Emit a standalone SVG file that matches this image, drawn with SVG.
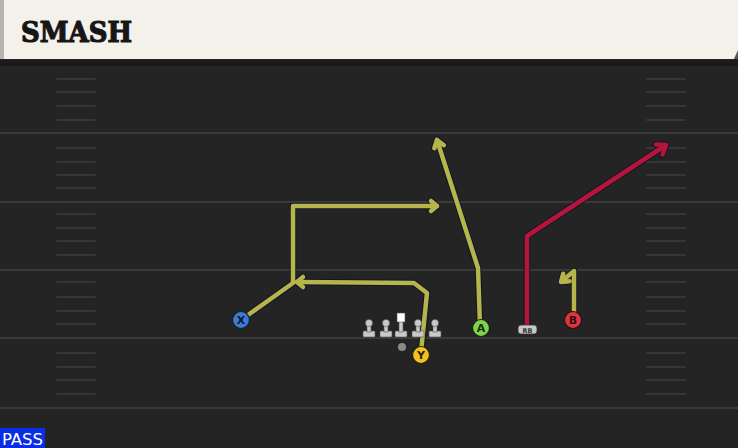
<svg xmlns="http://www.w3.org/2000/svg" width="738" height="448" viewBox="0 0 738 448">
<style>
.yard{stroke:#3a3a3a;stroke-width:2}
.hash{stroke:#363636;stroke-width:2;stroke-linecap:round}
.out{fill:none;stroke:#14142a;stroke-width:6.5;stroke-linejoin:round;stroke-linecap:round}
.rt{fill:none;stroke:#b5b54a;stroke-width:4.5;stroke-linejoin:round;stroke-linecap:round}
.red{fill:none;stroke:#b3163a;stroke-width:4.5;stroke-linejoin:round;stroke-linecap:round}
.lbl{font-family:"DejaVu Sans",sans-serif;font-size:11px;font-weight:bold;text-anchor:middle}
.ol{fill:#c9c9c9;stroke:#555;stroke-width:0.6}
</style>
<defs>
<g id="lm"><rect class="ol" x="-6" y="331" width="12" height="6" rx="1"/><rect class="ol" x="-2" y="324" width="4" height="8"/><circle class="ol" cx="0" cy="323" r="3.6"/></g>
</defs>
<rect width="738" height="448" fill="#242424"/>
<rect x="0" y="60" width="738" height="6" fill="#1a1a1a"/>
<g id="field">
<line class="yard" x1="0" y1="133" x2="738" y2="133"/>
<line class="yard" x1="0" y1="202" x2="738" y2="202"/>
<line class="yard" x1="0" y1="270" x2="738" y2="270"/>
<line class="yard" x1="0" y1="338" x2="738" y2="338"/>
<line class="yard" x1="0" y1="408" x2="738" y2="408"/>
<g id="hashL">
<line class="hash" x1="57" y1="79" x2="95" y2="79"/><line class="hash" x1="57" y1="92" x2="95" y2="92"/><line class="hash" x1="57" y1="106" x2="95" y2="106"/><line class="hash" x1="57" y1="120" x2="95" y2="120"/>
<line class="hash" x1="57" y1="148" x2="95" y2="148"/><line class="hash" x1="57" y1="162" x2="95" y2="162"/><line class="hash" x1="57" y1="175" x2="95" y2="175"/><line class="hash" x1="57" y1="188" x2="95" y2="188"/>
<line class="hash" x1="57" y1="214" x2="95" y2="214"/><line class="hash" x1="57" y1="228" x2="95" y2="228"/><line class="hash" x1="57" y1="241" x2="95" y2="241"/><line class="hash" x1="57" y1="255" x2="95" y2="255"/>
<line class="hash" x1="57" y1="282" x2="95" y2="282"/><line class="hash" x1="57" y1="297" x2="95" y2="297"/><line class="hash" x1="57" y1="311" x2="95" y2="311"/><line class="hash" x1="57" y1="324" x2="95" y2="324"/>
<line class="hash" x1="57" y1="353" x2="95" y2="353"/><line class="hash" x1="57" y1="367" x2="95" y2="367"/><line class="hash" x1="57" y1="380" x2="95" y2="380"/><line class="hash" x1="57" y1="394" x2="95" y2="394"/>
</g>
<use href="#hashL" x="590"/>
</g>
<g id="header">
<rect x="0" y="0" width="738" height="59" fill="#f4f1ea"/>
<rect x="0" y="0" width="4" height="59" fill="#b4b4b0"/>
<path d="M734,59 L738,50 L738,59 Z" fill="#555"/>
<text x="21" y="42" font-family="'DejaVu Serif',serif" font-weight="bold" font-size="28" textLength="111" lengthAdjust="spacingAndGlyphs" fill="#161616" stroke="#161616" stroke-width="1.2">SMASH</text>
</g>
<g id="connectors">
<polyline class="out" points="241,320 293,283 293,206 437,206"/>
<polyline class="out" points="431,201 437,206 431,211"/>
<polyline class="out" points="421,352 427,293 414,283 297,282"/>
<polyline class="out" points="303,277 297,282 303,287"/>
<polyline class="out" points="480,326 478,268 437,140"/>
<polyline class="out" points="443.9,145.2 437,140 434.3,148.2"/>
<polyline class="out" points="574,318 574,271 562,281"/>
<polyline class="out" points="569.6,281.3 561,282 563.2,273.7"/>
<polyline class="out" points="527,326 527,236 666,145"/>
<polyline class="out" points="662.6,154.4 666,145 656,144.4"/>
<polyline class="rt" points="241,320 293,283 293,206 437,206"/>
<polyline class="rt" points="431,201 437,206 431,211"/>
<polyline class="rt" points="421,352 427,293 414,283 297,282"/>
<polyline class="rt" points="303,277 297,282 303,287"/>
<polyline class="rt" points="480,326 478,268 437,140"/>
<polyline class="rt" points="443.9,145.2 437,140 434.3,148.2"/>
<polyline class="rt" points="574,318 574,271 562,281"/>
<polyline class="rt" points="569.6,281.3 561,282 563.2,273.7"/>
<polyline class="red" points="527,326 527,236 666,145"/>
<polyline class="red" points="662.6,154.4 666,145 656,144.4"/>
</g>
<g id="line">
<use href="#lm" x="369"/>
<use href="#lm" x="386"/>
<use href="#lm" x="418"/>
<use href="#lm" x="435"/>
<g id="center"><rect class="ol" x="395" y="331" width="12" height="6" rx="1"/><rect class="ol" x="399" y="321" width="4" height="11"/><rect x="397" y="313" width="8" height="9" fill="#fff" stroke="#555" stroke-width="0.6"/></g>
<circle id="qb" cx="402" cy="347" r="4" fill="#8a8a8a"/>
</g>
<g id="X"><circle cx="241" cy="320" r="8.5" fill="#3c7ad8" stroke="#122" stroke-width="1.2"/><text class="lbl" x="241" y="324" fill="#101828">X</text></g>
<g id="Y"><circle cx="421" cy="355" r="8.5" fill="#f2c21e" stroke="#221" stroke-width="1.2"/><text class="lbl" x="421" y="359" fill="#2a2210">Y</text></g>
<g id="A"><circle cx="481" cy="328" r="8.5" fill="#7fd24a" stroke="#122" stroke-width="1.2"/><text class="lbl" x="481" y="332" fill="#1a2a10">A</text></g>
<g id="B"><circle cx="573" cy="320" r="8.5" fill="#e2343e" stroke="#211" stroke-width="1.2"/><text class="lbl" x="573" y="324" fill="#2a1010">B</text></g>
<g id="RB"><rect x="518" y="325" width="19" height="9" rx="3" fill="#c8c8c8" stroke="#333" stroke-width="0.8"/><text x="527.5" y="332.5" font-family="'DejaVu Sans',sans-serif" font-size="6.5" font-weight="bold" text-anchor="middle" fill="#333">RB</text></g>
<g id="pass"><rect x="0" y="428" width="45" height="20" fill="#0a2ee6"/><text x="22.5" y="445" font-family="'DejaVu Sans Condensed','DejaVu Sans',sans-serif" font-size="15" textLength="41" lengthAdjust="spacingAndGlyphs" text-anchor="middle" fill="#fff">PASS</text></g>
</svg>
